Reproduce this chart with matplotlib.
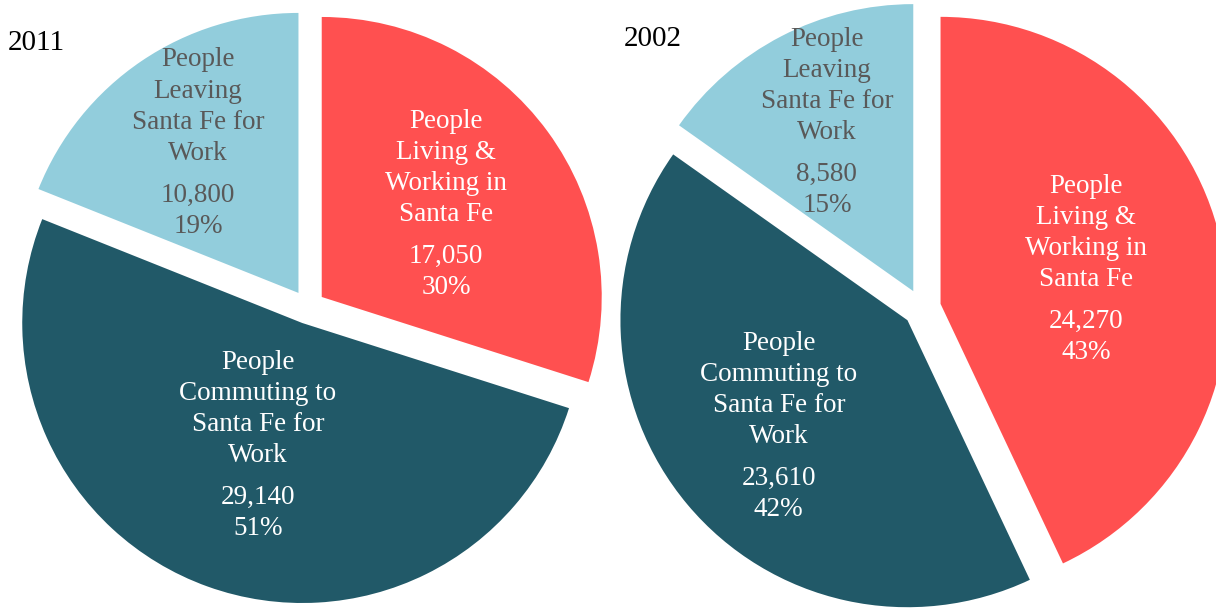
import numpy as np
import matplotlib
matplotlib.use("Agg")
import matplotlib.pyplot as plt

# Santa Fe workforce by commuting pattern
categories = ["People\nLiving &\nWorking in\nSanta Fe",
              "People\nCommuting to\nSanta Fe for\nWork",
              "People\nLeaving\nSanta Fe for\nWork"]
workers_2011 = [17050, 29140, 10800]
workers_2002 = [24270, 23610, 8580]
years = ["2011", "2002"]

colors = ["#FF5050", "#215968", "#92CDDC"]
text_colors = ["white", "white", "#595959"]

plt.rcParams["font.family"] = ["Liberation Serif", "DejaVu Serif"]

W, H = 1216, 608
fig = plt.figure(figsize=(W / 100, H / 100), dpi=100)
ax = fig.add_axes([0, 0, 1, 1])


def draw_pie(values, year, center, radius, explode, label_dist, year_xy):
    total = sum(values)
    wedges, _ = ax.pie(values, colors=colors, startangle=90, counterclock=False,
                       center=center, radius=radius, explode=[explode] * len(values),
                       wedgeprops=dict(linewidth=0))
    for w, v, name, tc, d in zip(wedges, values, categories, text_colors, label_dist):
        theta = np.deg2rad((w.theta1 + w.theta2) / 2)
        cx, cy = w.center
        x = cx + d * radius * np.cos(theta)
        y = cy + d * radius * np.sin(theta)
        # name block above, count and share below
        ax.text(x, y + 38, name, color=tc, fontsize=19.5, ha="center", va="center",
                linespacing=1.32)
        ax.text(x, y - 66, f"{v:,}\n{v / total:.0%}", color=tc, fontsize=19.5,
                ha="center", va="center", linespacing=1.32)
    ax.text(year_xy[0], year_xy[1], year, fontsize=21, color="black",
            ha="left", va="center")


draw_pie(workers_2011, years[0], (308, 301), 280, 17, [0.55, 0.47, 0.64], (8, 565))
draw_pie(workers_2002, years[1], (922, 300), 287, 19, [0.52, 0.585, 0.655], (624, 569))

ax.set_xlim(0, W)
ax.set_ylim(0, H)
ax.set_aspect("equal")
ax.axis("off")

fig.savefig("out.png", dpi=100)
